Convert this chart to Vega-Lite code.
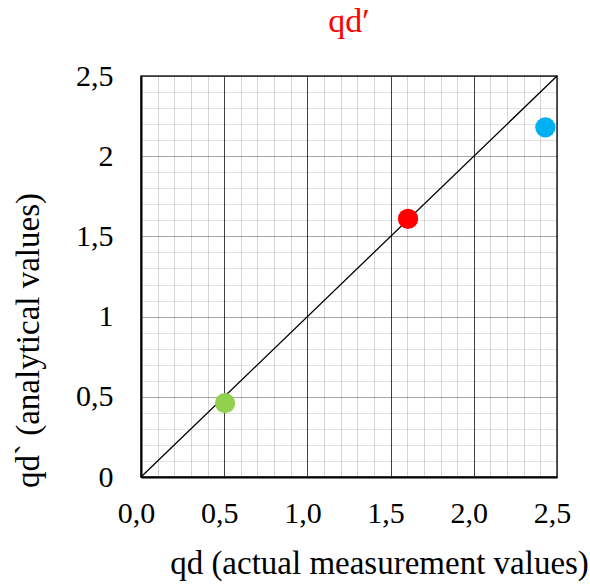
{
  "$schema": "https://vega.github.io/schema/vega-lite/v6.json",
  "autosize": "none",
  "width": 416,
  "height": 401,
  "padding": {"left": 141, "top": 76, "right": 33, "bottom": 107},
  "background": "white",
  "config": {
    "font": "Liberation Serif",
    "view": {"stroke": "#262626", "strokeWidth": 1.5},
    "axis": {"titleFont": "Liberation Serif", "labelFont": "Liberation Serif", "titleFontWeight": "normal"}
  },
  "title": {
    "text": "qd′",
    "color": "#ff0000",
    "fontSize": 34,
    "font": "Liberation Serif",
    "fontWeight": "normal",
    "anchor": "middle",
    "baseline": "alphabetic",
    "offset": 0,
    "dy": 5
  },
  "datasets": {
    "diag": [{"x0": 0, "y0": 0, "x1": 2.5, "y1": 2.5}],
    "points": [
      {"point": "P1", "qd": 0.505, "qd_analytical": 0.46},
      {"point": "P2", "qd": 1.605, "qd_analytical": 1.61},
      {"point": "P3", "qd": 2.43, "qd_analytical": 2.18}
    ]
  },
  "layer": [
    {
      "data": {"name": "diag"},
      "mark": {"type": "rule", "color": "black", "strokeWidth": 1.3},
      "encoding": {
        "x": {
          "field": "x0", "type": "quantitative",
          "scale": {"domain": [0, 2.5], "nice": false, "zero": false},
          "axis": {
            "orient": "bottom", "title": null, "labels": false, "ticks": false, "domain": false,
            "grid": true, "gridColor": "black", "gridWidth": 1, "gridOpacity": 0.17,
            "values": [0.1, 0.2, 0.3, 0.4, 0.6, 0.7, 0.8, 0.9, 1.1, 1.2, 1.3, 1.4, 1.6, 1.7, 1.8, 1.9, 2.1, 2.2, 2.3, 2.4]
          }
        },
        "y": {
          "field": "y0", "type": "quantitative",
          "scale": {"domain": [0, 2.5], "nice": false, "zero": false},
          "axis": {
            "orient": "left", "title": null, "labels": false, "ticks": false, "domain": false,
            "grid": true, "gridColor": "black", "gridWidth": 1.2, "gridOpacity": 0.11,
            "values": [0.1, 0.2, 0.3, 0.4, 0.6, 0.7, 0.8, 0.9, 1.1, 1.2, 1.3, 1.4, 1.6, 1.7, 1.8, 1.9, 2.1, 2.2, 2.3, 2.4]
          }
        },
        "x2": {"field": "x1"},
        "y2": {"field": "y1"}
      }
    },
    {
      "data": {"name": "points"},
      "mark": {"type": "circle", "opacity": 1, "size": 410},
      "encoding": {
        "x": {
          "field": "qd", "type": "quantitative",
          "scale": {"domain": [0, 2.5], "nice": false, "zero": false},
          "axis": {
            "orient": "bottom",
            "title": "qd (actual measurement values)",
            "titleFont": "Liberation Serif", "titleFontSize": 33, "titleFontWeight": "normal", "titleColor": "black",
            "titleX": 238, "titleY": 96, "titleAlign": "center", "titleBaseline": "alphabetic",
            "values": [0, 0.5, 1, 1.5, 2, 2.5],
            "labelExpr": "replace(format(datum.value, '.1f'), '.', ',')",
            "labelFont": "Liberation Serif", "labelFontSize": 30, "labelColor": "black",
            "labelPadding": 21, "labelOffset": -5, "labelFlush": false, "labelOverlap": false,
            "ticks": false, "domain": true, "domainColor": "black", "domainWidth": 2,
            "grid": true, "gridColor": "#404040", "gridWidth": 1, "gridOpacity": 1
          }
        },
        "y": {
          "field": "qd_analytical", "type": "quantitative",
          "scale": {"domain": [0, 2.5], "nice": false, "zero": false},
          "axis": {
            "orient": "left",
            "title": "qd` (analytical values)",
            "titleFont": "Liberation Serif", "titleFontSize": 33, "titleFontWeight": "normal", "titleColor": "black",
            "titleAngle": -90, "titleX": -103, "titleY": 264, "titleAlign": "center", "titleBaseline": "alphabetic",
            "values": [0, 0.5, 1, 1.5, 2, 2.5],
            "labelExpr": "replace(format(datum.value, '~g'), '.', ',')",
            "labelFont": "Liberation Serif", "labelFontSize": 30, "labelColor": "black",
            "labelPadding": 28, "labelFlush": false, "labelOverlap": false,
            "ticks": false, "domain": true, "domainColor": "black", "domainWidth": 2,
            "grid": true, "gridColor": "black", "gridWidth": 1.2, "gridOpacity": 0.35
          }
        },
        "color": {
          "field": "point", "type": "nominal",
          "scale": {"domain": ["P1", "P2", "P3"], "range": ["#92d050", "#ff0000", "#00b0f0"]},
          "legend": null
        }
      }
    }
  ],
  "resolve": {"axis": {"x": "independent", "y": "independent"}}
}
